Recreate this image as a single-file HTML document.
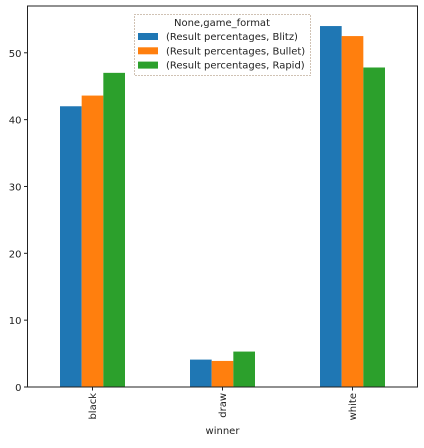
<!DOCTYPE html>
<html><head><meta charset="utf-8"><style>
body{margin:0;background:#fff;font-family:"Liberation Sans","DejaVu Sans",sans-serif}
svg text{font-family:"DejaVu Sans","Liberation Sans",sans-serif;fill:#222}
</style></head><body>
<svg id="chart" width="424" height="443" xmlns="http://www.w3.org/2000/svg"></svg>
<script>
const categories=["black","draw","white"];
const seriesNames=["(Result percentages, Blitz)","(Result percentages, Bullet)","(Result percentages, Rapid)"];
const blitz=[42.0,4.1,54.0];
const bullet=[43.6,3.9,52.5];
const rapid=[47.0,5.3,47.8];
const yTicks=[0,10,20,30,40,50];
const colors=["#1f77b4","#ff7f0e","#2ca02c"];
const series=[blitz,bullet,rapid];
const L=27.5,R=417.5,T=6,B=387,yMax=57;
const svg=document.getElementById('chart');
const NS="http://www.w3.org/2000/svg";
function y(v){return B-(v/yMax)*(B-T);}
function xc(i){return L+(R-L)*(i+0.5)/categories.length;}
function mk(tag,attrs,parent){const e=document.createElementNS(NS,tag);for(const k in attrs)e.setAttribute(k,attrs[k]);(parent||svg).appendChild(e);return e;}
const step=(R-L)/categories.length, bw=step*0.5/3;
series.forEach((s,si)=>{s.forEach((v,ci)=>{
 const r=mk('rect',{x:xc(ci)-step*0.25+si*bw,y:y(v),width:bw,height:B-y(v),fill:colors[si]});
 
 
});});
const frame=mk('rect',{x:L,y:T,width:R-L,height:B-T,fill:'none',stroke:'#222','stroke-width':1});


yTicks.forEach(t=>{
 mk('line',{x1:L-3.5,x2:L,y1:y(t),y2:y(t),stroke:'#222'});
 const tx=mk('text',{x:L-6,y:y(t)+4,'text-anchor':'end','font-size':10});tx.textContent=t;
 
 
});
categories.forEach((c,i)=>{
 mk('line',{x1:xc(i),x2:xc(i),y1:B,y2:B+3.5,stroke:'#222'});
 const tx=mk('text',{x:xc(i)+3.5,y:B+6,'text-anchor':'end','font-size':10,transform:`rotate(-90 ${xc(i)+3.5} ${B+6})`});tx.textContent=c;
 
 
});
const xl=mk('text',{x:(L+R)/2,y:434,'text-anchor':'middle','font-size':10});xl.textContent='winner';


const lg=mk('g',{});


mk('rect',{x:134.5,y:14.5,width:176,height:61,fill:'#fff',stroke:'#a0866a','stroke-dasharray':'1,2'},lg);
const lt=mk('text',{x:222,y:26,'text-anchor':'middle','font-size':10},lg);lt.textContent='None,game_format';
seriesNames.forEach((n,i)=>{
 const g=mk('g',{},lg);
 
 
 mk('rect',{x:138,y:33+i*14.3,width:20,height:7,fill:colors[i]},g);
 const t=mk('text',{x:166,y:40+i*14.3,'font-size':10},g);t.textContent=n;
});
</script>
</body></html>
